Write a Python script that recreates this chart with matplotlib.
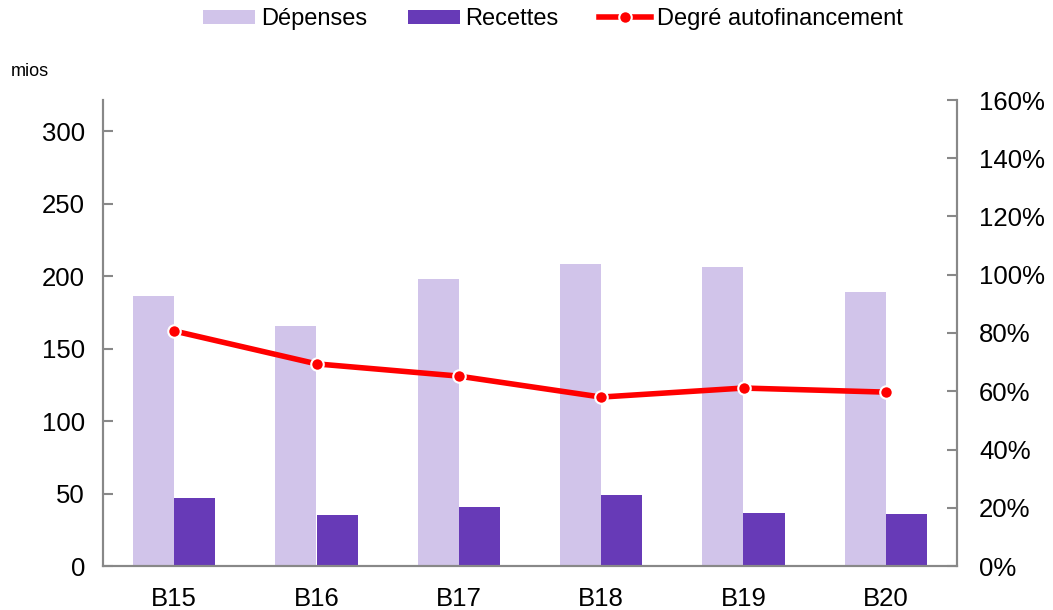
import numpy as np
import matplotlib
matplotlib.use("Agg")
import matplotlib.pyplot as plt

plt.rcParams['font.family'] = ['Liberation Sans', 'DejaVu Sans']

# Data
categories = ['B15', 'B16', 'B17', 'B18', 'B19', 'B20']
depenses = [186, 165.5, 198, 208, 206, 189]
recettes = [47, 35, 41, 49, 36.5, 36]
autofin = [0.807, 0.694, 0.652, 0.580, 0.611, 0.597]

col_dep = '#D1C4EA'
col_rec = '#673AB7'
col_line = '#FF0000'
grey = '#888888'

fig = plt.figure(figsize=(10.53, 6.10), dpi=100)
ax = fig.add_axes([103 / 1053, 44 / 610, 854 / 1053, 466 / 610])
ax2 = ax.twinx()

x = np.arange(len(categories))
w = 0.29
ax.bar(x - w / 2, depenses, w, color=col_dep, label='Dépenses', zorder=2)
ax.bar(x + w / 2, recettes, w, color=col_rec, label='Recettes', zorder=2)
ax2.plot(x, autofin, color=col_line, lw=4, marker='o', ms=9,
         markerfacecolor=col_line, markeredgecolor='white', markeredgewidth=1.5,
         label='Degré autofinancement', zorder=3)

ax.set_xlim(-0.5, len(categories) - 0.5)
ax.set_ylim(0, 321.4)
ax.set_yticks([0, 50, 100, 150, 200, 250, 300])
ax2.set_ylim(0, 1.6)
ax2.set_yticks(np.arange(0, 1.61, 0.2))
ax2.set_yticklabels([f'{int(round(v * 100))}%' for v in np.arange(0, 1.61, 0.2)])

ax.set_xticks(x)
ax.set_xticklabels(categories)

for a in (ax, ax2):
    a.spines['top'].set_visible(False)
    for s in ('left', 'right', 'bottom'):
        a.spines[s].set_color(grey)
        a.spines[s].set_linewidth(1.5)
    a.tick_params(axis='y', direction='in', length=7, width=1.5, color=grey,
                  labelsize=18.5, pad=13)
ax.tick_params(axis='x', length=0, labelsize=18.5, pad=15)
ax2.tick_params(axis='y', pad=16)

fig.text(11 / 1053, 1 - 72 / 610, 'mios', fontsize=13, va='center', ha='left')

h1, l1 = ax.get_legend_handles_labels()
h2, l2 = ax2.get_legend_handles_labels()
fig.legend(h1 + h2, l1 + l2, loc='center', bbox_to_anchor=(553 / 1053, 1 - 19 / 610),
           ncol=3, frameon=False, fontsize=17, handlelength=2.2, handleheight=0.55,
           handletextpad=0.25, columnspacing=1.7, borderpad=0.2)

fig.savefig('out.png', dpi=100)
